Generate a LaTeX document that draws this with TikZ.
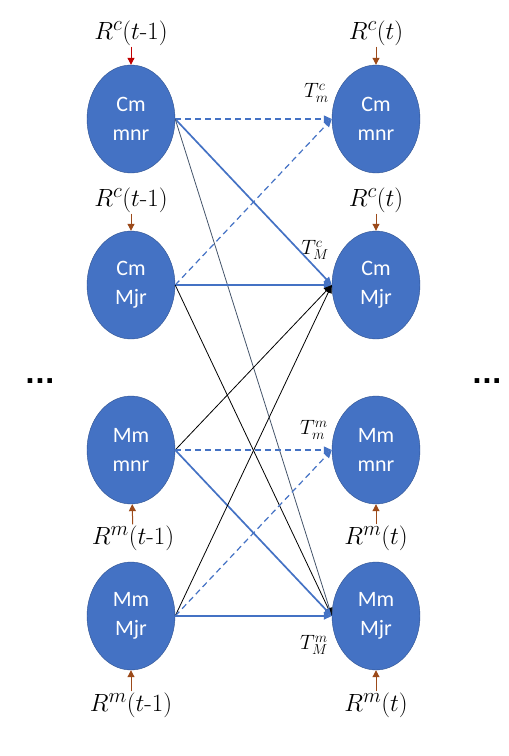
\documentclass[tikz,border=0pt]{standalone}
\usepackage{fontspec}
\newfontfamily\nodefont{Carlito}
\newfontfamily\dotfont{DejaVu Sans}
\usetikzlibrary{arrows.meta,shapes.geometric,positioning}
\definecolor{nodeblue}{HTML}{4472C4}
\definecolor{nodeedge}{HTML}{2F528F}
\definecolor{inbrown}{HTML}{9C4A1A}
\definecolor{inred}{HTML}{C00000}
\definecolor{slate}{HTML}{44546A}

\begin{document}
\begin{tikzpicture}[x=1pt,y=-1pt,
    rlabel/.style={inner sep=1pt,font=\Huge},
    tlabel/.style={inner sep=0pt,font=\huge},
    inarrow/.style={-{Triangle[length=7pt,width=7pt]},line width=1pt,draw=inbrown}]
    \useasboundingbox (0,0) rectangle (509,756);
    \begin{scope}[every node/.style={ellipse,draw=nodeedge,fill=nodeblue,text=white,
        minimum width=88pt,minimum height=108pt,inner sep=0pt,align=center,
        font=\nodefont\fontsize{22}{29}\selectfont}]
        \node (cmL) at (131,119) {Cm\\mnr};
        \node (cML) at (131,285) {Cm\\Mjr};
        \node (mmL) at (131,450) {Mm\\mnr};
        \node (mML) at (131,616) {Mm\\Mjr};
        \node (cmR) at (376,119) {Cm\\mnr};
        \node (cMR) at (376,285) {Cm\\Mjr};
        \node (mmR) at (376,450) {Mm\\mnr};
        \node (mMR) at (376,616) {Mm\\Mjr};
    \end{scope}
    % inputs
    \node[rlabel] (rcL1) at (131,33) {$R^{c}(t\mbox{-}1)$};
    \node[rlabel] (rcL2) at (131,200) {$R^{c}(t\mbox{-}1)$};
    \node[rlabel] (rmL1) at (133,538) {$R^{m}(t\mbox{-}1)$};
    \node[rlabel] (rmL2) at (131,705) {$R^{m}(t\mbox{-}1)$};
    \node[rlabel] (rcR1) at (376,33) {$R^{c}(t)$};
    \node[rlabel] (rcR2) at (376,200) {$R^{c}(t)$};
    \node[rlabel] (rmR1) at (376,538) {$R^{m}(t)$};
    \node[rlabel] (rmR2) at (376,705) {$R^{m}(t)$};
    \draw[inarrow,draw=inred] (rcL1) -- (cmL);
    \draw[inarrow] (rcL2) -- (cML);
    \draw[inarrow] (rmL1) -- (mmL);
    \draw[inarrow] (rmL2) -- (mML);
    \draw[inarrow] (rcR1) -- (cmR);
    \draw[inarrow] (rcR2) -- (cMR);
    \draw[inarrow] (rmR1) -- (mmR);
    \draw[inarrow] (rmR2) -- (mMR);
    % transitions
    \node[tlabel,anchor=east] (tcm) at (329,93) {$T_{m}^{c}$};
    \node[tlabel,anchor=east] (tcM) at (329,250) {$T_{M}^{c}$};
    \node[tlabel,anchor=east] (tmm) at (328,430) {$T_{m}^{m}$};
    \node[tlabel,anchor=east] (tmM) at (328,645) {$T_{M}^{m}$};
    \node[anchor=base,font=\dotfont\bfseries\fontsize{26}{30}\selectfont] (dotsL) at (40,383) {...};
    \node[anchor=base,font=\dotfont\bfseries\fontsize{26}{30}\selectfont] (dotsR) at (487,383) {...};
    \begin{scope}[
        every edge/.style={-{Triangle[length=8pt,width=7pt]},draw=black,line width=0.8pt},
        solid blue/.style={draw=nodeblue,line width=1.7pt},
        dash blue/.style={draw=nodeblue,line width=1.2pt,dash pattern=on 6pt off 4pt}]
        \path (cmL.east) edge[dash blue] (cmR.west);
        \path (cmL.east) edge[solid blue] (cMR.west);
        \path (cmL.east) edge[draw=slate] (mMR.west);
        \path (cML.east) edge[dash blue] (cmR.west);
        \path (cML.east) edge[solid blue] (cMR.west);
        \path (cML.east) edge (mMR.west);
        \path (mmL.east) edge (cMR.west);
        \path (mmL.east) edge[dash blue] (mmR.west);
        \path (mmL.east) edge[solid blue] (mMR.west);
        \path (mML.east) edge (cMR.west);
        \path (mML.east) edge[dash blue] (mmR.west);
        \path (mML.east) edge[solid blue] (mMR.west);
    \end{scope}
\end{tikzpicture}
\end{document}
